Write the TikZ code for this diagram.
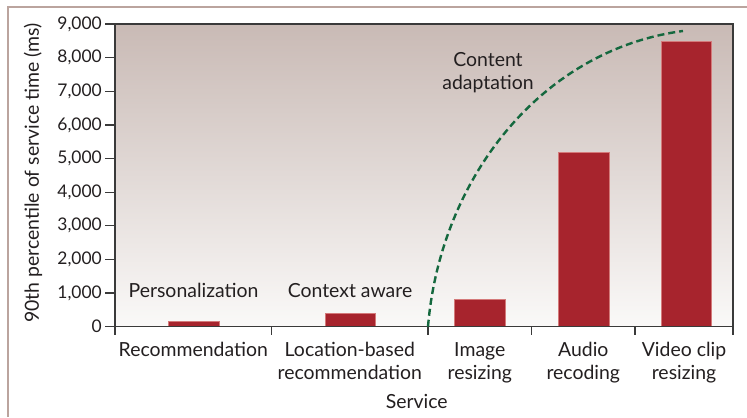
\documentclass[tikz,border=0pt]{standalone}
\usepackage{fontspec}
\setmainfont{Lato}
\usepackage{tikz}

\definecolor{barred}{RGB}{167,36,45}
\definecolor{baredge}{RGB}{212,122,122}
\definecolor{curvegreen}{RGB}{20,104,62}
\definecolor{frametan}{RGB}{187,164,158}
\definecolor{axisgray}{RGB}{58,58,58}
\definecolor{txtgray}{RGB}{35,31,32}
\definecolor{bgtop}{RGB}{201,186,181}
\definecolor{bgbot}{RGB}{250,249,248}

\begin{document}
\begin{tikzpicture}[x=1bp,y=1bp,
    bar/.style={fill=barred,draw=baredge,line width=0.8bp},
    lbl/.style={text=txtgray,font=\fontsize{19.5}{23}\selectfont,inner sep=0pt},
    ticklbl/.style={text=txtgray,font=\fontsize{17.5}{21}\selectfont,inner sep=0pt},
    axisline/.style={axisgray,line width=1.2bp}]
  \useasboundingbox (0,0) rectangle (747,417);
  \fill[white] (0,0) rectangle (747,417);
  \draw[frametan,line width=1.5bp] (8,0) -- (8,410) -- (747,410);

  \begin{scope}[shift={(115,90.3)}]
    % plot area
    \shade[top color=bgtop,bottom color=bgbot] (0,0) rectangle (618,302.7);
    % bars
    \draw[bar] (53.3,0) rectangle (104,5.7);
    \draw[bar] (210,0) rectangle (260.7,13.4);
    \draw[bar] (339.3,0) rectangle (390.7,27.7);
    \draw[bar] (443.3,0) rectangle (494,174.2);
    \draw[bar] (546.7,0) rectangle (596.7,285.2);
    \draw[axisline] (0,0) rectangle (618,302.7);
    % y ticks
    \foreach \k in {0,...,9} {
      \draw[axisline] (-10,\k*33.63) -- (0,\k*33.63);
      \node[ticklbl,anchor=east] (ytick\k) at (-13,\k*33.63)
        {\ifnum\k=0 0\else\k,000\fi};
    }
    % category ticks
    \foreach \cx in {0,156.5,313,416.5,520,618}
      \draw[axisline] (\cx,0) -- (\cx,-8.5);
    % category labels (base = last line)
    \node[lbl,anchor=base] (recom) at (78.3,-29.3) {Recommendation};
    \node[lbl,anchor=base,align=center] (locrec) at (234.8,-52.3) {Location-based\\recommendation};
    \node[lbl,anchor=base,align=center] (imgres) at (364.8,-52.3) {Image\\resizing};
    \node[lbl,anchor=base,align=center] (audrec) at (468.3,-52.3) {Audio\\recoding};
    \node[lbl,anchor=base,align=center] (vidres) at (569,-52.3) {Video clip\\resizing};
    % group labels
    \node[lbl,anchor=base] (person) at (78.5,29) {Personalization};
    \node[lbl,anchor=base] (context) at (235,29) {Context aware};
    \node[lbl,anchor=base,align=center] (adapt) at (373,237.4) {Content\\adaptation};
    % content adaptation boundary
    \draw[curvegreen,line width=2.4bp,dash pattern=on 7bp off 4bp]
      (313,0) .. controls (325,146.7) and (425,276.7) .. (568,295.7);
  \end{scope}

  \node[lbl,anchor=base] (service) at (416.7,8.7) {Service};
  \node[lbl,rotate=90] (ylabel) at (33,244) {90th percentile of service time (ms)};
\end{tikzpicture}
\end{document}
